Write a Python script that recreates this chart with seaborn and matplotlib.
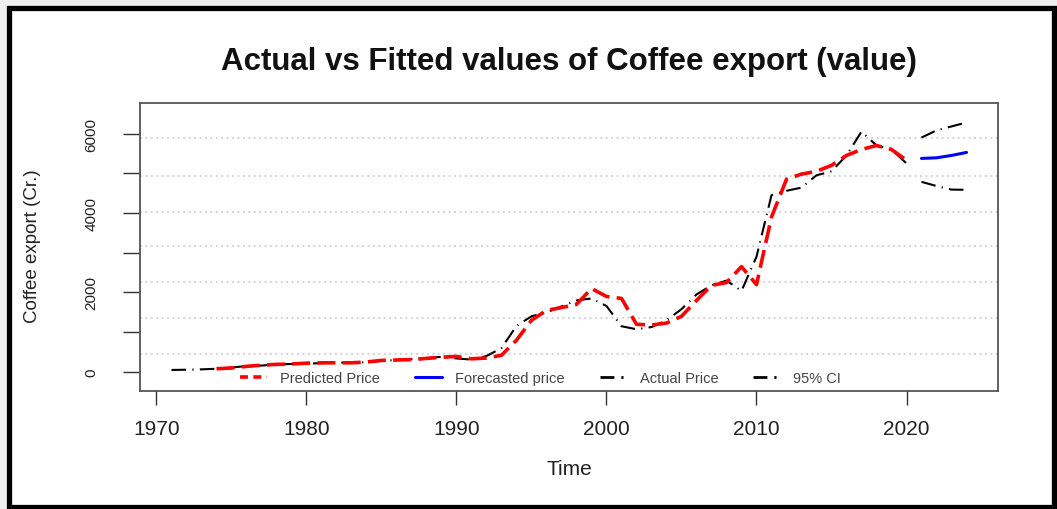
import seaborn as sns
import numpy as np
import pandas as pd
import matplotlib
matplotlib.use('Agg')
import matplotlib.pyplot as plt
from matplotlib.lines import Line2D
from matplotlib.patches import Rectangle

# ------------------------ data
actual_years = list(range(1971, 2021))
actual_value = [50, 55, 65, 80, 110, 150, 160, 190, 200, 210,
                220, 230, 240, 240, 280, 300, 320, 350, 380, 340,
                310, 400, 600, 1160, 1400, 1500, 1650, 1800, 1850, 1660,
                1150, 1075, 1130, 1300, 1580, 1950, 2180, 2300, 2040, 2900,
                4450, 4560, 4640, 4950, 5050, 5450, 6050, 5700, 5600, 5250]

pred_years = list(range(1974, 2021))
pred_value = [80, 100, 140, 170, 190, 200, 220, 230, 230, 230,
              250, 290, 300, 310, 340, 370, 390, 330, 350, 420,
              800, 1300, 1550, 1620, 1700, 2100, 1900, 1850, 1200, 1180,
              1230, 1400, 1800, 2180, 2250, 2650, 2200, 3900, 4850, 4980,
              5050, 5200, 5450, 5600, 5700, 5600, 5330]

fc_years = [2021, 2022, 2023, 2024]
fc_value = [5375, 5390, 5450, 5525]
ci_upper = [5900, 6080, 6180, 6280]
ci_lower = [4785, 4680, 4590, 4585]

grid_levels = [446, 1370, 2267, 3159, 4030, 4937, 5879]
x_ticks = [1970, 1980, 1990, 2000, 2010, 2020]
y_ticks = [0, 1000, 2000, 3000, 4000, 5000, 6000]
y_labels = ['0', '', '2000', '', '4000', '', '6000']

legend_labels = ['Predicted Price', 'Forecasted price', 'Actual Price', '95% CI']

sns.set_style('white')
plt.rcParams['font.family'] = ['Liberation Sans', 'DejaVu Sans']

df_act = pd.DataFrame({'year': actual_years, 'value': actual_value})
df_pred = pd.DataFrame({'year': pred_years, 'value': pred_value})
df_fc = pd.DataFrame({'year': fc_years, 'value': fc_value,
                      'upper': ci_upper, 'lower': ci_lower})

fig = plt.figure(figsize=(10.57, 5.10), dpi=100, facecolor='#f0f0f0')
fig.patches.append(Rectangle((8.5 / 1057, 2.5 / 510), (1054 - 8.5) / 1057, 499 / 510,
                             transform=fig.transFigure, facecolor='white',
                             edgecolor='black', linewidth=3.8, zorder=-5))

ax = fig.add_axes([140 / 1057, 1 - 392 / 510, 858 / 1057, 288 / 510])
ax.set_zorder(2)

for g in grid_levels:
  ax.axhline(g, color='#cfcfcf', lw=1.3, linestyle=(0, (1, 2)), zorder=1)

black_ls = (0, (7, 3, 0.6, 3))

sns.lineplot(data=df_act, x='year', y='value', ax=ax, color='black',
             lw=1.5, linestyle=black_ls, zorder=3)
sns.lineplot(data=df_pred, x='year', y='value', ax=ax, color='red',
             lw=2.6, linestyle=(0, (5, 2)), zorder=4)
sns.lineplot(data=df_fc, x='year', y='value', ax=ax, color='blue',
             lw=2.2, zorder=4)
sns.lineplot(data=df_fc, x='year', y='upper', ax=ax, color='black',
             lw=1.5, linestyle=black_ls, zorder=3)
sns.lineplot(data=df_fc, x='year', y='lower', ax=ax, color='black',
             lw=1.5, linestyle=black_ls, zorder=3)

ax.set_xlim(1968.9, 2026.1)
ax.set_ylim(-480, 6770)
ax.set_xticks(x_ticks)
ax.set_xticklabels([str(t) for t in x_ticks])
ax.set_yticks(y_ticks)
ax.set_yticklabels(y_labels, rotation=90, va='center')
ax.tick_params(axis='x', length=10, width=1, color='#333333', pad=10,
               labelsize=15, labelcolor='#222222', direction='out', bottom=True)
ax.tick_params(axis='y', length=12, width=1, color='#333333', pad=18,
               labelsize=11, labelcolor='#222222', direction='out', left=True)
for s in ax.spines.values():
  s.set_color('#555555')
  s.set_linewidth(1.3)
ax.set_xlabel('')
ax.set_ylabel('')

handles = [Line2D([], [], color='red', lw=2.6, linestyle=(0, (2.2, 1.5))),
           Line2D([], [], color='blue', lw=2.2),
           Line2D([], [], color='black', lw=2, linestyle=(0, (5, 2.5, 0.8, 2.5))),
           Line2D([], [], color='black', lw=2, linestyle=(0, (5, 2.5, 0.8, 2.5)))]
ax.legend(handles, legend_labels, ncol=4, frameon=False, loc='center left',
          bbox_to_anchor=((240 - 140) / 858, 13 / 288), borderaxespad=0,
          borderpad=0, fontsize=10.5, handlelength=1.85, handletextpad=0.9,
          columnspacing=2.4, labelcolor='#444444')

fig.text(569 / 1057, 1 - 62 / 510, 'Actual vs Fitted values of Coffee export (value)',
         ha='center', va='center', fontsize=22.5, fontweight='bold', color='#111111')
fig.text(569 / 1057, 1 - 470 / 510, 'Time', ha='center', va='center',
         fontsize=15, color='#222222')
fig.text(33 / 1057, 1 - 246.5 / 510, 'Coffee export (Cr.)', ha='center', va='center',
         rotation=90, fontsize=13.5, color='#222222')

fig.savefig('out.png', dpi=100, facecolor=fig.get_facecolor())
